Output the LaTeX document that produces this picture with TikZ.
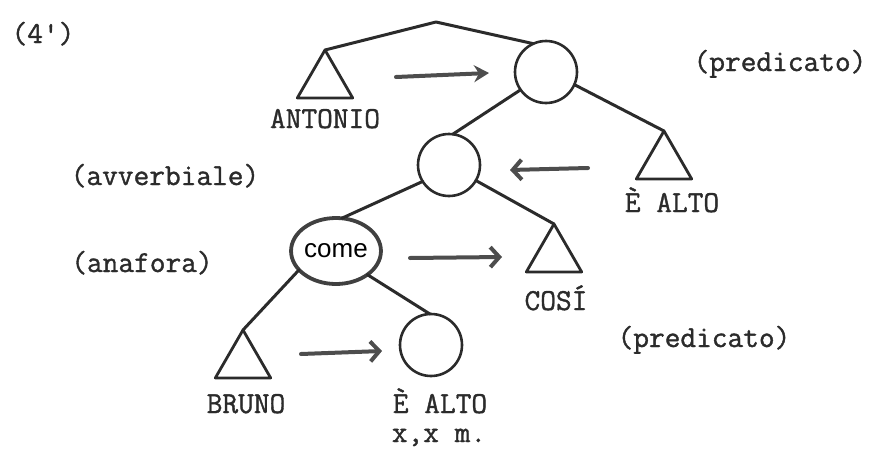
\documentclass[tikz,border=0pt]{standalone}
\usepackage{fontspec}
\setsansfont{Liberation Sans}
\newfontfamily\typew{Latin Modern Mono}[FakeBold=1.2]
\usetikzlibrary{shapes.geometric,arrows.meta}
\definecolor{inkc}{HTML}{2B2B2B}
\definecolor{arrowc}{HTML}{4D4D4D}
\begin{document}
\begin{tikzpicture}[x=1pt,y=-1pt,
  edge/.style={line width=3pt, draw=inkc, line cap=round, line join=round},
  leaf/.style={regular polygon, regular polygon sides=3, minimum size=64pt,
    inner sep=0pt, outer sep=0pt, draw=inkc, line width=2.8pt, line join=round},
  ring/.style={circle, minimum size=62pt, inner sep=0pt, outer sep=0pt,
    draw=inkc, line width=2.6pt},
  oval/.style={ellipse, minimum width=82pt, minimum height=66pt, inner sep=0pt,
    outer sep=0pt, draw=inkc!90, line width=3.8pt,
    font=\sffamily\fontsize{26}{28}\selectfont},
  word/.style={font=\typew\fontsize{30.5}{33}\selectfont, inner sep=0pt,
    anchor=base, text=inkc},
  move/.style={line width=4pt, draw=arrowc, line cap=round},
  fwd/.style={move, -{Stealth[length=15pt,width=17pt,inset=5pt]}},
  barb/.style={move, -{Straight Barb[length=9pt,width=20pt]}}
]
\useasboundingbox (0,0) rectangle (873,450);

% tree nodes
\coordinate (apex) at (436,22);
\node[leaf] (tA) at (325,82) {};
\node[ring] (c1) at (546,72) {};
\node[ring] (c2) at (449,165) {};
\node[leaf] (tE) at (664,163) {};
\node[oval] (come) at (336,251) {come};
\node[leaf] (tC) at (554,256) {};
\node[leaf] (tB) at (243,362) {};
\node[ring] (c3) at (431,345) {};

% branches
\draw[edge] (tA.corner 1) -- (apex) -- (c1.114);
\draw[edge] (c1.215) -- (c2.83);
\draw[edge] (c1.336) -- (tE.corner 1);
\draw[edge] (c2.212) -- (come.80);
\draw[edge] (c2.330) -- (tC.corner 1);
\draw[edge] (come.207) -- (tB.corner 1);
\draw[edge] (come.323) -- (c3.92);

% arrows between sister constituents
\coordinate (a1s) at (396,77);  \coordinate (a1e) at (489,73);
\coordinate (a2s) at (588,168); \coordinate (a2e) at (510,170);
\coordinate (a3s) at (410,258); \coordinate (a3e) at (502,257);
\coordinate (a4s) at (301,354); \coordinate (a4e) at (382,351);
\draw[fwd]  (a1s) -- (a1e);
\draw[barb] (a2s) -- (a2e);
\draw[barb] (a3s) -- (a3e);
\draw[barb] (a4s) -- (a4e);

% labels
\node[word] (num)   at (43,43)   {(4')};
\node[word] (lAnt)  at (325,128) {ANTONIO};
\node[word] (lPr1)  at (780,71)  {(predicato)};
\node[word] (lAvv)  at (165,185) {(avverbiale)};
\node[word] (lEa1)  at (672,212) {È ALTO};
\node[word] (lAna)  at (142,272) {(anafora)};
\node[word] (lCosi) at (556,310) {COSÍ};
\node[word] (lPr2)  at (704,347) {(predicato)};
\node[word] (lBru)  at (246,413) {BRUNO};
\node[word] (lEa2)  at (440,413) {È ALTO};
\node[word] (lMis)  at (439,442) {x,x m.};
\end{tikzpicture}
\end{document}
